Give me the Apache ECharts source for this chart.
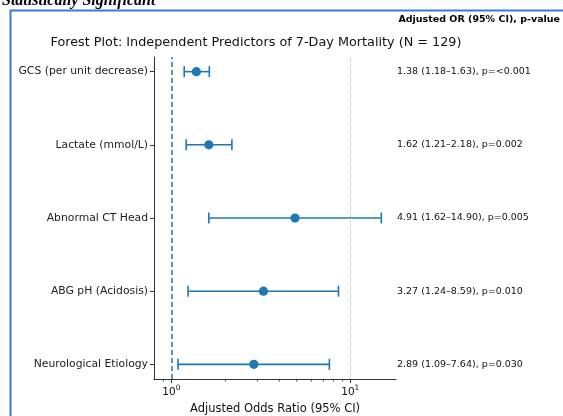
<!DOCTYPE html>
<html><head><meta charset="utf-8">
<script src="https://cdn.jsdelivr.net/npm/echarts@6/dist/echarts.min.js"></script>
<style>html,body{margin:0;padding:0;background:#fff}#c{width:563px;height:416px}</style>
</head><body><div id="c"></div>
<script>
const categories = ['Neurological Etiology','ABG pH (Acidosis)','Abnormal CT Head','Lactate (mmol/L)','GCS (per unit decrease)'];
const orValues = [2.89, 3.27, 4.91, 1.62, 1.38];
const ciLow = [1.09, 1.24, 1.62, 1.21, 1.18];
const ciHigh = [7.64, 8.59, 14.90, 2.18, 1.63];
const pValues = ['0.030','0.010','0.005','0.002','<0.001'];
const xMajorTicks = [1, 10];
const xMinorTicks = [0.9, 2, 3, 4, 5, 6, 7, 8, 9];
const xMin = 0.8, xMax = 18;
const yMin = -0.2, yMax = 4.2;

const color = '#1f77b4';
const font = 'DejaVu Sans';
const data = categories.map((c,i)=>[i, orValues[i], ciLow[i], ciHigh[i]]);
const annotations = categories.map((c,i)=>`${orValues[i].toFixed(2)} (${ciLow[i].toFixed(2)}\u2013${ciHigh[i].toFixed(2)}), p=${pValues[i]}`);
const tickData = xMajorTicks.map(v=>[v, yMin, 1]).concat(xMinorTicks.map(v=>[v, yMin, 0]));

const chart = echarts.init(document.getElementById('c'), null, {renderer:'canvas'});
chart.setOption({
  animation:false,
  title:{
    text:'Forest Plot: Independent Predictors of 7-Day Mortality (N = 129)',
    left:251, top:31, textAlign:'center',
    textStyle:{fontFamily:font, fontSize:12.8, fontWeight:'normal', color:'#111'}
  },
  graphic:[
    {type:'rect', shape:{x:10.5, y:10.5, width:600, height:500}, style:{fill:'none', stroke:'#3c78d8', lineWidth:2}},
    {type:'text', left:2, top:-7, style:{text:'Statistically Significant', fontFamily:'Liberation Serif', fontStyle:'italic', fontWeight:'bold', fontSize:16, fill:'#000'}},
    {type:'text', style:{text:'Adjusted OR (95% CI), p-value', x:560, y:20, textAlign:'right', textVerticalAlign:'middle', fontFamily:font, fontWeight:'bold', fontSize:9.5, fill:'#000'}}
  ],
  grid:{left:154, right:167, top:57, bottom:37, outerBoundsMode:'none', containLabel:false},
  xAxis:{
    type:'log', logBase:10, min:xMin, max:xMax,
    splitLine:{show:false},
    name:'Adjusted Odds Ratio (95% CI)', nameLocation:'middle', nameGap:18,
    nameTextStyle:{fontFamily:font, fontSize:11.5, color:'#111'},
    axisLine:{show:true, onZero:false, lineStyle:{color:'#333', width:1}},
    axisTick:{show:false},
    axisLabel:{show:true, customValues:xMajorTicks, margin:5, color:'#111',
      formatter:v=>'{b|10}{s|'+Math.round(Math.log10(v))+'}',
      rich:{b:{fontFamily:font, fontSize:10.5, color:'#111', verticalAlign:'bottom'},
            s:{fontFamily:font, fontSize:7.5, color:'#111', verticalAlign:'top', padding:[0,0,6,0]}}}
  },
  yAxis:{
    type:'value', min:yMin, max:yMax,
    splitLine:{show:false},
    axisLine:{show:true, onZero:false, lineStyle:{color:'#333', width:1}},
    axisTick:{show:true, customValues:[0,1,2,3,4], length:4, lineStyle:{color:'#333'}},
    axisLabel:{customValues:[0,1,2,3,4], margin:6, fontFamily:font, fontSize:10.8, color:'#222',
      formatter:v=>categories[Math.round(v)]}
  },
  series:[{
    type:'custom',
    clip:false,
    data:data,
    encode:{x:[1,2,3], y:0},
    renderItem:(params, api)=>{
      const y = api.value(0);
      const pL = api.coord([api.value(2), y]);
      const pH = api.coord([api.value(3), y]);
      const pM = api.coord([api.value(1), y]);
      const pT = api.coord([xMax, y]);
      const cap = 5.5;
      const ls = {stroke:color, lineWidth:1.6};
      return {type:'group', children:[
        {type:'line', shape:{x1:pL[0], y1:pL[1], x2:pH[0], y2:pH[1]}, style:ls},
        {type:'line', shape:{x1:pL[0], y1:pL[1]-cap, x2:pL[0], y2:pL[1]+cap}, style:ls},
        {type:'line', shape:{x1:pH[0], y1:pH[1]-cap, x2:pH[0], y2:pH[1]+cap}, style:ls},
        {type:'circle', shape:{cx:pM[0], cy:pM[1], r:4.6}, style:{fill:color}},
        {type:'text', style:{text:annotations[params.dataIndex], x:pT[0]+1, y:pT[1], textAlign:'left', textVerticalAlign:'middle', fontFamily:font, fontSize:9.5, fill:'#111'}}
      ]};
    },
    markLine:{
      symbol:'none', silent:true, label:{show:false},
      data:[
        {xAxis:10, lineStyle:{color:'#c8c8c8', type:'dotted', width:1}},
        {xAxis:1, lineStyle:{color:color, type:[5,3], width:1.5}}
      ]
    }
  },{
    type:'custom',
    clip:false, silent:true,
    data:tickData,
    encode:{x:0, y:1},
    z:5,
    renderItem:(params, api)=>{
      const p = api.coord([api.value(0), api.value(1)]);
      const major = api.value(2) === 1;
      const len = major ? 4 : 2.5;
      const x = Math.round(p[0]) + 0.5;
      return {type:'line', shape:{x1:x, y1:p[1], x2:x, y2:p[1]+len}, style:{stroke:'#333', lineWidth:major?1:0.8}};
    }
  }]
});
</script>
</body></html>
